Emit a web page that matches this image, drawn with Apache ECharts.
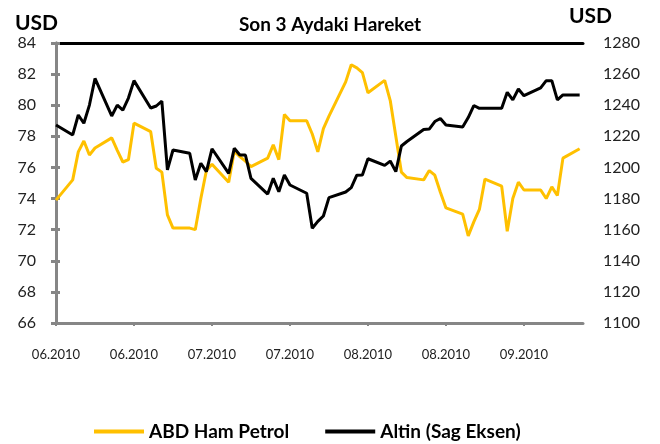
<!DOCTYPE html>
<html><head><meta charset="utf-8">
<script src="https://cdn.jsdelivr.net/npm/echarts@6/dist/echarts.min.js"></script>
<style>html,body{margin:0;padding:0;background:#fff}#c{width:660px;height:444px}</style>
</head><body><div id="c"></div>
<script>
// trading days, counted in calendar days from 11.06.2010
const dayOffsets = [0,3,4,5,6,7,10,11,12,13,14,17,18,19,20,21,24,25,26,27,28,31,32,33,34,35,38,39,40,41,42,45,46,47,48,49,52,53,54,55,56,59,60,61,62,63,66,67,68,69,70,73,74,75,76,77,80,81,82,83,84,87,88,89,90,91,94];
const petrol = [73.9,75.2,77.0,77.7,76.8,77.25,77.9,77.1,76.35,76.5,78.85,78.3,75.95,75.7,72.95,72.1,72.1,72.0,74.0,75.8,76.2,75.05,77.05,76.7,76.4,76.05,76.6,77.45,76.5,79.4,79.0,79.0,78.15,77.0,78.5,79.3,81.5,82.6,82.4,82.1,80.8,81.6,80.3,78.0,75.7,75.35,75.2,75.8,75.5,74.4,73.4,73.0,71.6,72.5,73.3,75.25,74.8,71.9,74.0,75.05,74.55,74.55,74.0,74.75,74.2,76.6,77.2];
const altin = [1227.3,1220.9,1233.7,1228.4,1240.1,1257.2,1233.1,1240.1,1236.9,1244.6,1255.8,1238.2,1239.5,1242.7,1198.4,1211.2,1209.1,1191.9,1202.7,1197.3,1212.0,1196.2,1212.3,1208.0,1208.0,1193.0,1182.9,1193.0,1184.4,1195.1,1188.7,1183.4,1160.9,1165.3,1168.8,1180.6,1184.2,1187.0,1195.0,1195.1,1205.6,1201.3,1204.1,1197.3,1213.8,1216.7,1224.4,1224.7,1229.5,1231.5,1227.3,1226.0,1232.1,1239.8,1238.0,1238.0,1238.0,1248.3,1243.4,1250.4,1246.1,1251.1,1255.8,1255.8,1243.4,1246.6,1246.6];
const tickLabels = ['06.2010','06.2010','07.2010','07.2010','08.2010','08.2010','09.2010'];
const seriesNames = ['ABD Ham Petrol','Altin (Sag Eksen)'];

const FONT = 'Lato';
const GRAY = '#868686';
const chart = echarts.init(document.getElementById('c'));
const xCommon = {type:'value', min:0, max:94.6, interval:14, splitLine:{show:false}};
chart.setOption({
  animation:false,
  backgroundColor:'#fff',
  title:[
    {text:'Son 3 Aydaki Hareket', left:'center', top:10, textStyle:{fontFamily:FONT,fontWeight:'bold',fontSize:19,color:'#000'}},
    {text:'USD', left:10, top:8, textStyle:{fontFamily:FONT,fontWeight:'bold',fontSize:21,color:'#000'}},
    {text:'USD', left:564, top:1, textStyle:{fontFamily:FONT,fontWeight:'bold',fontSize:21,color:'#000'}}
  ],
  grid:{left:56,right:77,top:43,bottom:121},
  legend:{
    data:seriesNames, left:89, top:417, itemWidth:50, itemHeight:4, itemGap:36, icon:'rect',
    textStyle:{fontFamily:FONT,fontWeight:'bold',fontSize:19,color:'#000'}
  },
  xAxis:[
    Object.assign({}, xCommon, {
      position:'bottom',
      axisLine:{lineStyle:{color:GRAY,width:3}},
      axisTick:{show:true,length:3,lineStyle:{color:GRAY,width:2}},
      axisLabel:{margin:25,fontFamily:FONT,fontSize:13,color:'#222',showMaxLabel:false,
        formatter:v=>Number.isInteger(v/14)&&tickLabels[v/14]?tickLabels[v/14]:''}
    }),
    Object.assign({}, xCommon, {
      position:'top',
      axisLine:{lineStyle:{color:'#000',width:3}},
      axisTick:{show:false}, axisLabel:{show:false}
    })
  ],
  yAxis:[
    {type:'value', min:66, max:84, interval:2, position:'left',
     axisLine:{show:true,lineStyle:{color:GRAY,width:3}},
     axisTick:{show:true,length:5,lineStyle:{color:GRAY,width:3}},
     axisLabel:{margin:20,fontFamily:FONT,fontSize:16,color:'#222',formatter:v=>String(v)},
     splitLine:{show:false}},
    {type:'value', min:1100, max:1280, interval:20, position:'right',
     axisLine:{show:true,lineStyle:{color:GRAY,width:3}},
     axisTick:{show:true,length:4,lineStyle:{color:GRAY,width:3}},
     axisLabel:{margin:20,fontFamily:FONT,fontSize:16,color:'#222',formatter:v=>String(v)},
     splitLine:{show:false}}
  ],
  series:[
    {name:seriesNames[0], type:'line', xAxisIndex:0, yAxisIndex:0, showSymbol:false,
     data:dayOffsets.map((d,i)=>[d,petrol[i]]),
     lineStyle:{color:'#FFC000',width:3}, itemStyle:{color:'#FFC000'}},
    {name:seriesNames[1], type:'line', xAxisIndex:0, yAxisIndex:1, showSymbol:false,
     data:dayOffsets.map((d,i)=>[d,altin[i]]),
     lineStyle:{color:'#000',width:3}, itemStyle:{color:'#000'}}
  ]
});
</script></body></html>
